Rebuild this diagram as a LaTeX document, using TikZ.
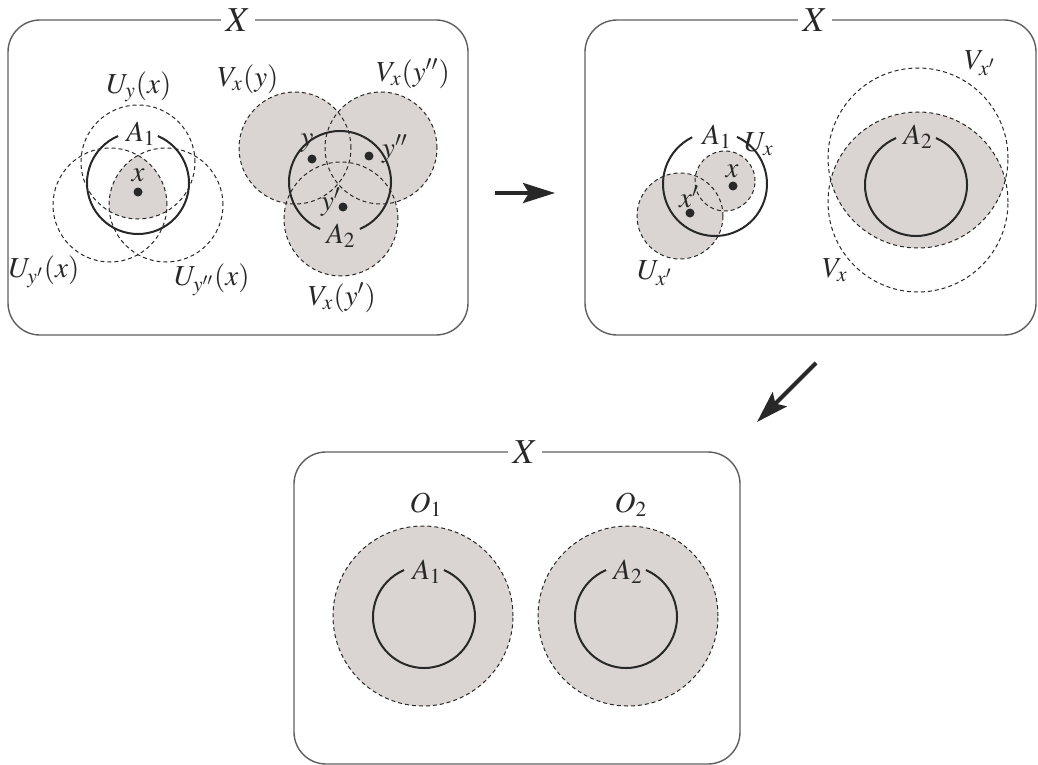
\documentclass[tikz,border=0pt]{standalone}
\usepackage{mathptmx}
\usetikzlibrary{arrows.meta}

\definecolor{setfill}{RGB}{218,213,210}
\definecolor{framegray}{RGB}{95,95,95}
\definecolor{inkgray}{RGB}{40,40,40}

\tikzset{
	frame/.style={draw=framegray, line width=0.7pt, rounded corners=16pt},
	spacelabel/.style={fill=white, inner sep=2.5pt, text=inkgray, font=\fontsize{17.5}{19}\selectfont},
	setlabel/.style={inner sep=0pt, text=inkgray, font=\fontsize{14.5}{16}\selectfont},
	nbhd/.style={draw=inkgray, dash pattern=on 2pt off 1.5pt, line width=0.5pt},
	closedset/.style={draw=inkgray, line width=1pt},
	pointdot/.style={fill=inkgray},
	bigarrow/.style={-{Stealth[length=16pt, width=10pt, inset=3pt]}, line width=2pt, draw=inkgray, fill=inkgray},
}

\begin{document}
\begin{tikzpicture}[x=0.5pt, y=0.5pt]

		\useasboundingbox (0,0) rectangle (1038,-765);

		% --- Frames ---
		\draw[frame] (8,-20) rectangle (468,-335);
		\draw[frame] (585,-20) rectangle (1036,-335);
		\draw[frame] (294,-452) rectangle (740,-764);
		\node[spacelabel] (X1) at (238,-20) {$X$};
		\node[spacelabel] (X2) at (815,-20) {$X$};
		\node[spacelabel] (X3) at (525,-452) {$X$};

		% --- Panel 1: around A_1 ---
		\begin{scope}
			\clip (138,-162) circle[radius=57];
			\clip (110,-205) circle[radius=57];
			\fill[setfill] (166,-205) circle[radius=57];
		\end{scope}
		\foreach \cx/\cy in {138/162, 110/205, 166/205} {
			\draw[nbhd] (\cx,-\cy) circle[radius=57];
		}
		\coordinate (cA1) at (138,-183);
		\draw[closedset] (cA1) ++(113:51) arc[start angle=113, end angle=427, radius=51];
		\fill[pointdot] (138,-192) circle[radius=4.5];

		\node[setlabel] (A1a) at (141,-134) {$A_1$};
		\node[setlabel] (xa) at (138,-175) {$x$};
		\node[setlabel] (Uy) at (139,-87) {$U_y(x)$};
		\node[setlabel] (Uy1) at (44,-272) {$U_{y'}(x)$};
		\node[setlabel] (Uy2) at (212,-280) {$U_{y''}(x)$};

		% --- Panel 1: around A_2 ---
		\foreach \cx/\cy/\r in {295/148/56, 381/148/56, 341/219/57} {
			\fill[setfill] (\cx,-\cy) circle[radius=\r];
		}
		\foreach \cx/\cy/\r in {295/148/56, 381/148/56, 341/219/57} {
			\draw[nbhd] (\cx,-\cy) circle[radius=\r];
		}
		\coordinate (cA2) at (340,-182);
		\draw[closedset] (cA2) ++(293:51) arc[start angle=293, end angle=607, radius=51];
		\foreach \px/\py in {312/159, 369/156, 343/207} {
			\fill[pointdot] (\px,-\py) circle[radius=4.5];
		}

		\node[setlabel] (A2a) at (341,-236) {$A_2$};
		\node[setlabel] (ya) at (307,-143) {$y$};
		\node[setlabel] (yb) at (395,-149) {$y''$};
		\node[setlabel] (yc) at (331,-202) {$y'$};
		\node[setlabel] (Vy) at (248,-79) {$V_x(y)$};
		\node[setlabel] (Vy2) at (413,-74) {$V_x(y'')$};
		\node[setlabel] (Vy1) at (342,-298) {$V_x(y')$};

		% --- Panel 2 ---
		\fill[setfill] (680,-216) circle[radius=43];
		\fill[setfill] (725,-181) circle[radius=30];
		\draw[nbhd] (680,-216) circle[radius=43];
		\draw[nbhd] (725,-181) circle[radius=30];
		\coordinate (cB1) at (715,-184);
		\draw[closedset] (cB1) ++(116:52) arc[start angle=116, end angle=425, radius=52];
		\fill[pointdot] (733,-186) circle[radius=4.5];
		\fill[pointdot] (690,-213) circle[radius=4.5];

		\node[setlabel] (A1b) at (717,-137) {$A_1$};
		\node[setlabel] (Ux) at (759,-144) {$U_x$};
		\node[setlabel] (xb) at (732,-171) {$x$};
		\node[setlabel] (xc) at (689,-197) {$x'$};
		\node[setlabel] (Ux1) at (655,-273) {$U_{x'}$};

		\begin{scope}
			\clip (918,-158) circle[radius=90];
			\fill[setfill] (918,-202) circle[radius=90];
		\end{scope}
		\draw[nbhd] (918,-158) circle[radius=90];
		\draw[nbhd] (918,-202) circle[radius=90];
		\coordinate (cB2) at (916,-185);
		\draw[closedset] (cB2) ++(113:51) arc[start angle=113, end angle=427, radius=51];

		\node[setlabel] (A2b) at (918,-137) {$A_2$};
		\node[setlabel] (Vx1) at (980,-63) {$V_{x'}$};
		\node[setlabel] (Vx) at (835,-270) {$V_x$};

		% --- Panel 3 ---
		\foreach \cx in {423, 628} {
			\fill[setfill] (\cx,-616) circle[radius=90];
			\draw[nbhd] (\cx,-616) circle[radius=90];
		}
		\coordinate (cC1) at (424,-617);
		\coordinate (cC2) at (626,-617);
		\draw[closedset] (cC1) ++(113:51) arc[start angle=113, end angle=427, radius=51];
		\draw[closedset] (cC2) ++(113:51) arc[start angle=113, end angle=427, radius=51];

		\node[setlabel] (O1) at (426,-505) {$O_1$};
		\node[setlabel] (O2) at (631,-505) {$O_2$};
		\node[setlabel] (A1c) at (427,-572) {$A_1$};
		\node[setlabel] (A2c) at (628,-572) {$A_2$};

		% --- Arrows ---
		\coordinate (h1) at (495,-193);
		\coordinate (h2) at (555,-193);
		\coordinate (d1) at (816,-363);
		\coordinate (d2) at (757,-422);
		\draw[bigarrow] (h1) -- (h2);
		\draw[bigarrow] (d1) -- (d2);

\end{tikzpicture}
\end{document}
